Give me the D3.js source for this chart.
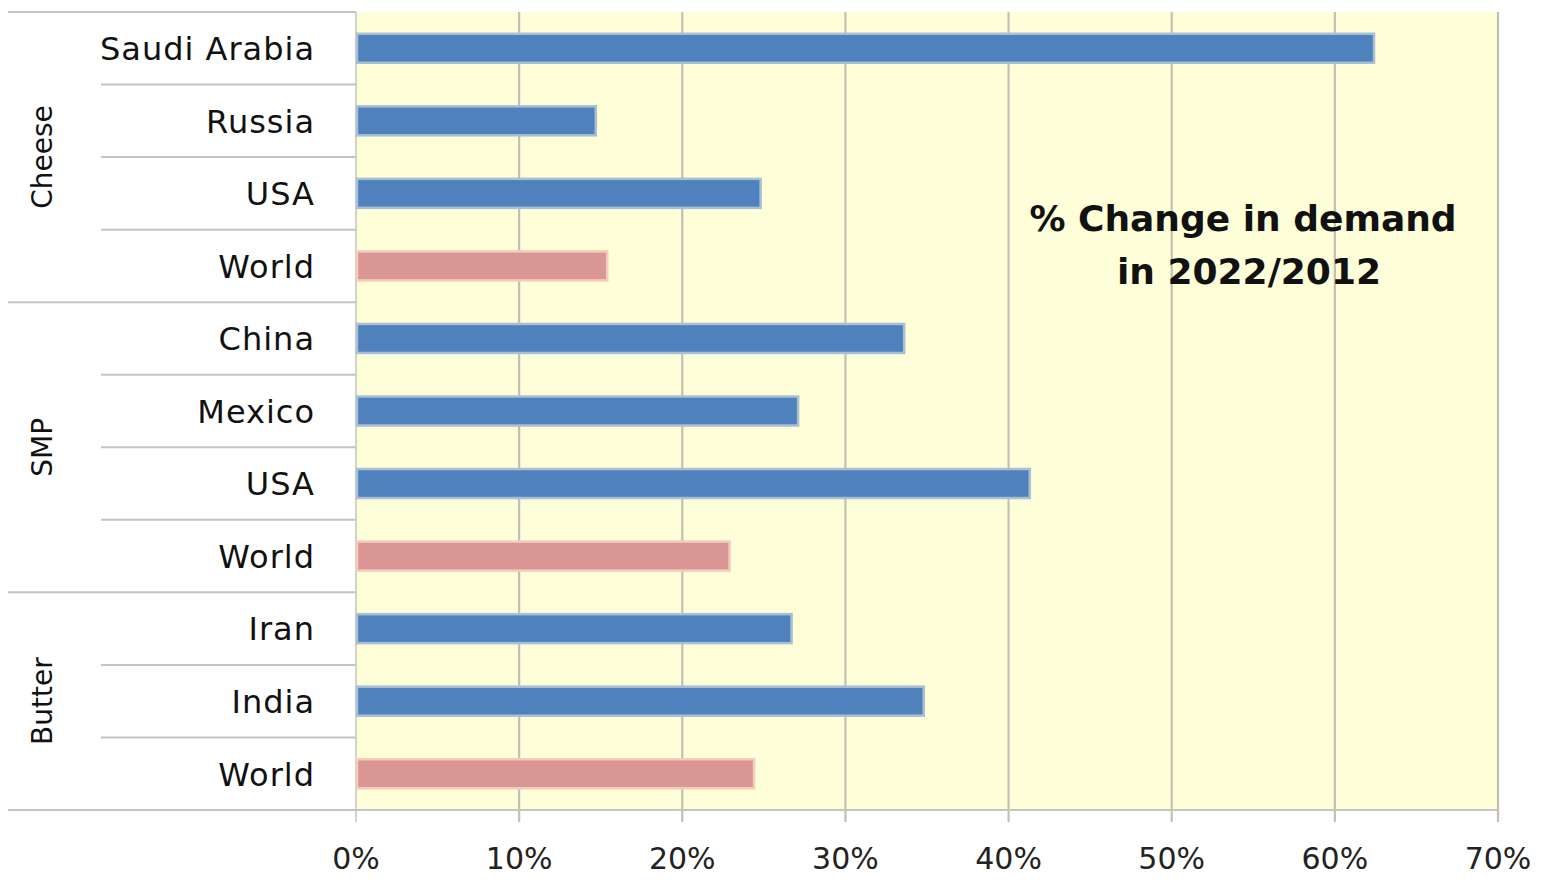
<!DOCTYPE html>
<html lang="en">
<head>
<meta charset="UTF-8">
<title>% Change in demand in 2022/2012</title>
<style>
  body { margin: 0; background: #fff; }
  svg text { font-family: "DejaVu Sans", sans-serif; fill: #111; }
</style>
</head>
<body>
<div id="chart"></div>
<script src="https://cdnjs.cloudflare.com/ajax/libs/d3/7.8.5/d3.min.js"></script>
<script>
  // data
  var groups = ["Cheese", "SMP", "Butter"];
  var countries = ["Saudi Arabia", "Russia", "USA", "World",
                   "China", "Mexico", "USA", "World",
                   "Iran", "India", "World"];
  var groupOf = ["Cheese", "Cheese", "Cheese", "Cheese",
                 "SMP", "SMP", "SMP", "SMP",
                 "Butter", "Butter", "Butter"];
  var values = [62.4, 14.7, 24.8, 15.4, 33.6, 27.1, 41.3, 22.9, 26.7, 34.8, 24.4];
  var xTicks = [0, 10, 20, 30, 40, 50, 60, 70];

  var width = 1544, height = 880;
  // plot area edges (note: "top" is a reserved window prop)
  var pLeft = 356, pRight = 1498, pTop = 12, pBottom = 810;

  var rows = countries.map(function (c, i) {
    return { key: i, country: c, group: groupOf[i], value: values[i] };
  });

  var svg = d3.select("#chart").append("svg")
    .attr("width", width)
    .attr("height", height);

  var x = d3.scaleLinear().domain([0, 70]).range([pLeft, pRight]);
  var y = d3.scaleBand().domain(d3.range(rows.length)).range([pTop, pBottom]).paddingInner(0.6).paddingOuter(0.3);
  var step = y.step();

  // plot background
  svg.append("rect")
    .attr("x", pLeft).attr("y", pTop)
    .attr("width", pRight - pLeft).attr("height", pBottom - pTop)
    .attr("fill", "#FEFED9");

  // vertical gridlines + tick marks
  svg.append("g").selectAll("line")
    .data(xTicks)
    .enter().append("line")
    .attr("x1", function (d) { return x(d); })
    .attr("x2", function (d) { return x(d); })
    .attr("y1", pTop)
    .attr("y2", pBottom + 12)
    .attr("stroke", function (d) { return d === 0 ? "#D4D4CC" : "#C0C0B4"; })
    .attr("stroke-width", 2.2);

  // bottom axis line
  svg.append("line")
    .attr("x1", 8).attr("x2", pRight)
    .attr("y1", pBottom).attr("y2", pBottom)
    .attr("stroke", "#C4C4C4").attr("stroke-width", 2);

  // x tick labels
  svg.append("g").selectAll("text")
    .data(xTicks)
    .enter().append("text")
    .attr("x", function (d) { return x(d); })
    .attr("y", 869)
    .attr("text-anchor", "middle")
    .style("font-size", "30px")
    .style("fill", "#222")
    .text(function (d) { return d + "%"; });

  // row separators on the category side
  svg.append("g").selectAll("line")
    .data(d3.range(rows.length))
    .enter().append("line")
    .attr("x1", function (i) {
      return (i === 0 || groupOf[i] !== groupOf[i - 1]) ? 8 : 101;
    })
    .attr("x2", pLeft)
    .attr("y1", function (i) { return pTop + i * step; })
    .attr("y2", function (i) { return pTop + i * step; })
    .attr("stroke", "#C4C4C4")
    .attr("stroke-width", 2);

  // bars
  svg.append("g").selectAll("rect")
    .data(rows)
    .enter().append("rect")
    .attr("x", x(0) + 1)
    .attr("y", function (d) { return y(d.key); })
    .attr("width", function (d) { return x(d.value) - x(0) - 1; })
    .attr("height", y.bandwidth())
    .attr("fill", function (d) { return d.country === "World" ? "#DA9694" : "#4F81BD"; })
    .attr("stroke", function (d) { return d.country === "World" ? "#F2CDBE" : "#A9BFD4"; })
    .attr("stroke-width", 2.5);

  // country labels
  svg.append("g").selectAll("text")
    .data(rows)
    .enter().append("text")
    .attr("x", 315)
    .attr("y", function (d) { return y(d.key) + y.bandwidth() / 2; })
    .attr("dy", "0.37em")
    .attr("text-anchor", "end")
    .style("font-size", "32px")
    .style("letter-spacing", "1px")
    .text(function (d) { return d.country; });

  // group labels (rotated)
  svg.append("g").selectAll("text")
    .data(groups)
    .enter().append("text")
    .attr("transform", function (g) {
      var idx = d3.range(rows.length).filter(function (i) { return groupOf[i] === g; });
      var y0 = pTop + idx[0] * step;
      var y1 = pTop + (idx[idx.length - 1] + 1) * step;
      return "translate(52," + ((y0 + y1) / 2) + ") rotate(-90)";
    })
    .attr("text-anchor", "middle")
    .style("font-size", "28px")
    .text(function (g) { return g; });

  // annotation title
  var title = svg.append("text")
    .attr("text-anchor", "middle")
    .style("font-size", "36px")
    .style("font-weight", "bold");
  title.append("tspan").attr("x", 1243).attr("y", 231).text("% Change in demand");
  title.append("tspan").attr("x", 1249).attr("y", 284).text("in 2022/2012");
</script>
</body>
</html>
